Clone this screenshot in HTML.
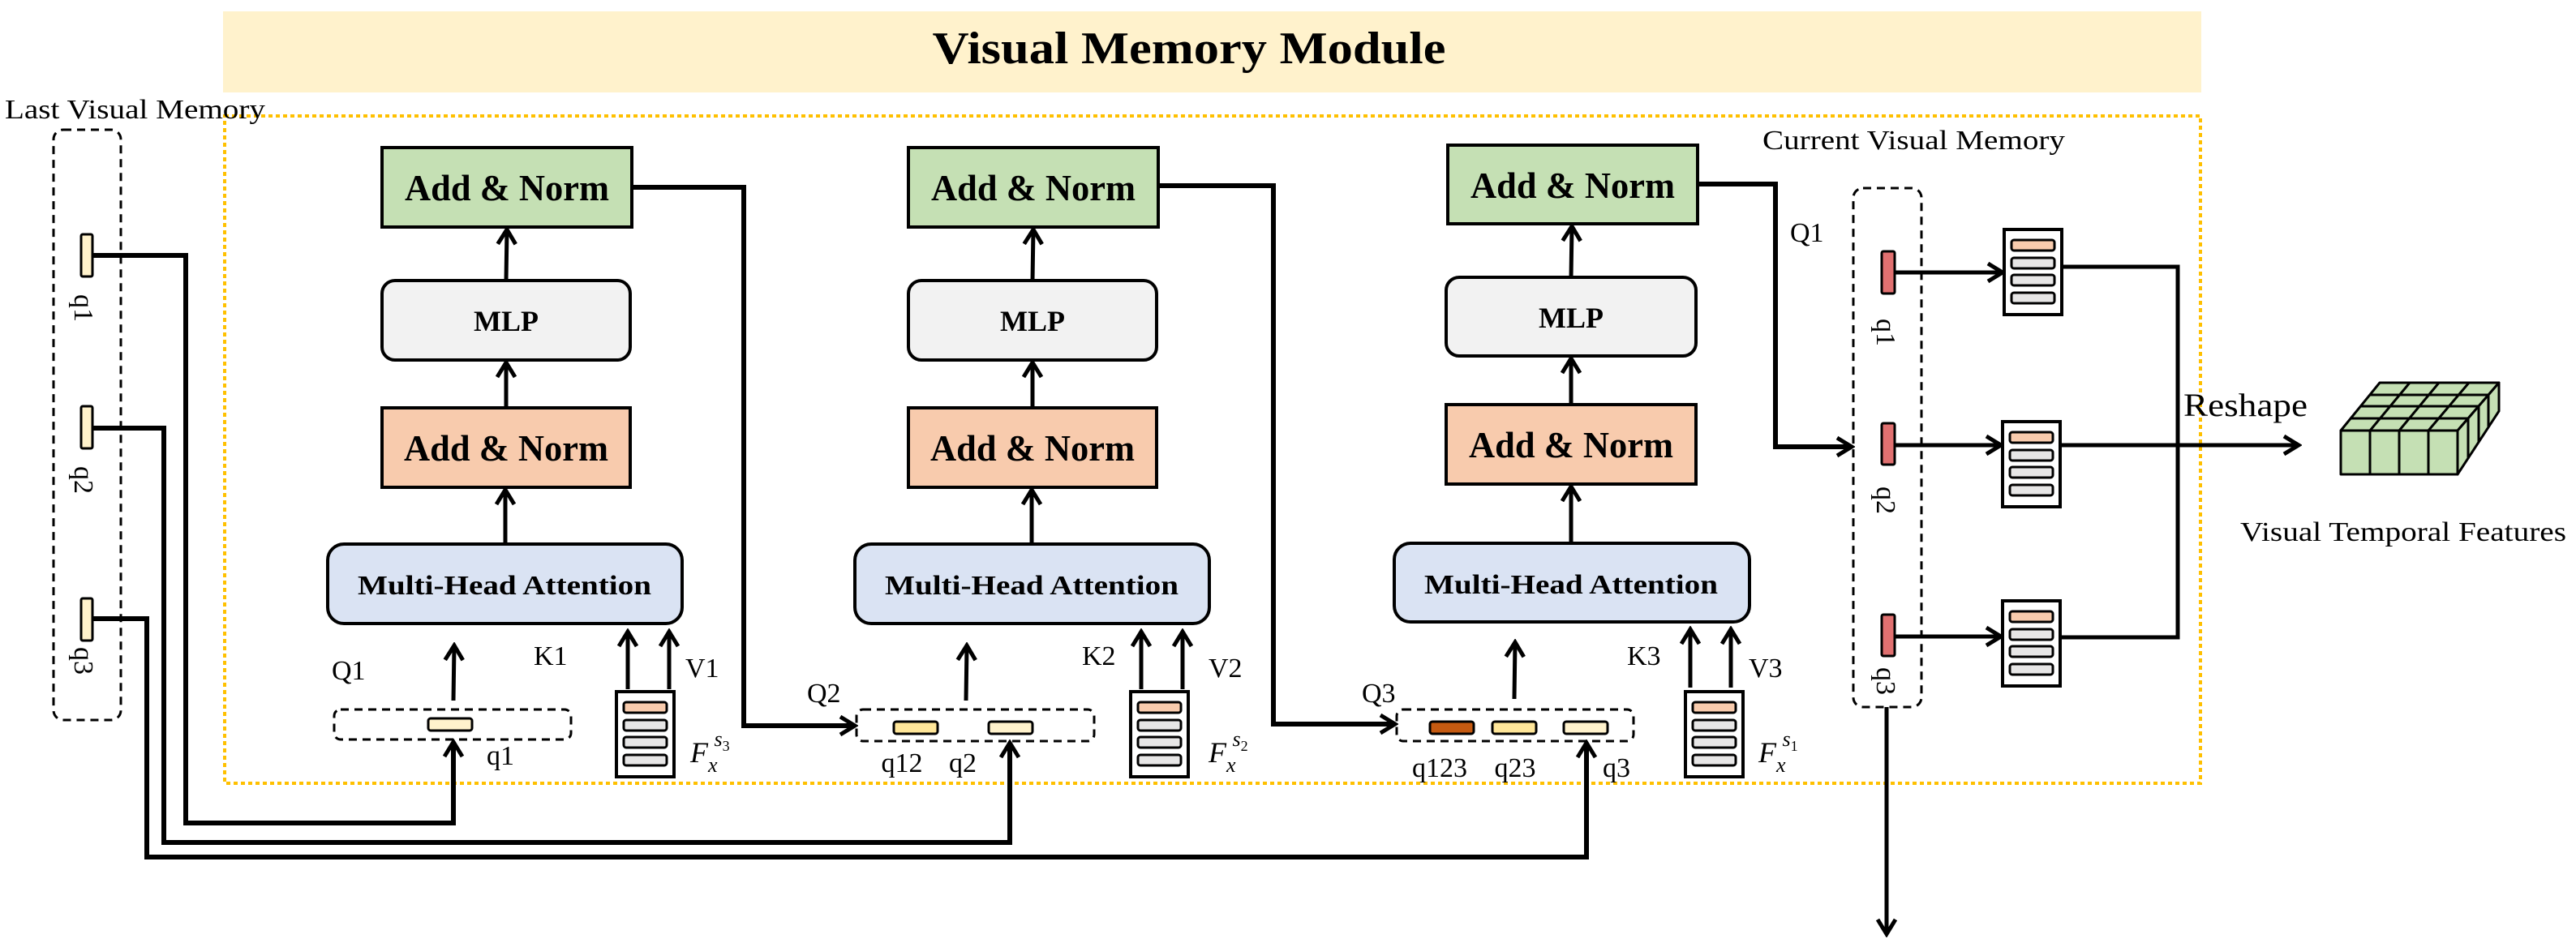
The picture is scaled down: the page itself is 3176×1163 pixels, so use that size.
<!DOCTYPE html>
<html><head><meta charset="utf-8"><style>
html,body{margin:0;padding:0;background:#fff;}
svg{display:block;}
text{font-family:"Liberation Serif",serif;}
</style></head><body>
<svg width="3176" height="1163" viewBox="0 0 3176 1163" xmlns="http://www.w3.org/2000/svg">
<defs>
<marker id="ah" markerUnits="userSpaceOnUse" markerWidth="30" markerHeight="30" viewBox="0 0 30 30" refX="26" refY="15" orient="auto">
<path d="M8,4 L26,15 L8,26" fill="none" stroke="#000" stroke-width="5" stroke-linejoin="miter"/>
</marker>
</defs>

<!-- title band -->
<rect x="275" y="14" width="2439" height="100" fill="#fff2cc"/>
<text x="1466" y="78" font-size="56" font-weight="bold" text-anchor="middle" textLength="633" lengthAdjust="spacingAndGlyphs">Visual Memory Module</text>

<!-- yellow dotted region -->
<rect x="277" y="143" width="2436" height="823" fill="none" stroke="#ffc000" stroke-width="4" stroke-dasharray="5,4"/>

<text x="6" y="146" font-size="34" textLength="321" lengthAdjust="spacingAndGlyphs">Last Visual Memory</text>
<text x="2173" y="184" font-size="34" textLength="373" lengthAdjust="spacingAndGlyphs">Current Visual Memory</text>

<!-- left memory box -->
<rect x="66" y="160" width="83" height="728" rx="12" fill="none" stroke="#000" stroke-width="3" stroke-dasharray="10,7"/>
<g fill="#fff2cc" stroke="#000" stroke-width="3">
<rect x="100" y="289" width="14" height="52" rx="2"/>
<rect x="100" y="501" width="14" height="52" rx="2"/>
<rect x="100" y="738" width="14" height="52" rx="2"/>
</g>
<g font-size="34">
<text transform="translate(92,380) rotate(90)" text-anchor="middle">q1</text>
<text transform="translate(92,592) rotate(90)" text-anchor="middle">q2</text>
<text transform="translate(92,815) rotate(90)" text-anchor="middle">q3</text>
</g>

<!-- lines from left memory -->
<g fill="none" stroke="#000" stroke-width="6">
<polyline points="114,315 229,315 229,1015 559,1015 559,915" marker-end="url(#ah)"/>
<polyline points="114,528 202,528 202,1039 1245,1039 1245,916" marker-end="url(#ah)"/>
<polyline points="114,763 181,763 181,1057 1956,1057 1956,916" marker-end="url(#ah)"/>
</g>

<!-- BLOCK 1 -->
<g stroke="#000" stroke-width="4">
<rect x="471" y="182" width="308" height="98" fill="#c5e0b4"/>
<rect x="471" y="346" width="306" height="98" rx="16" fill="#f2f2f2"/>
<rect x="471" y="503" width="306" height="98" fill="#f8cbad"/>
<rect x="404" y="671" width="437" height="98" rx="20" fill="#dae3f3"/>
</g>
<g font-weight="bold" text-anchor="middle">
<text x="625" y="247" font-size="46" textLength="252" lengthAdjust="spacingAndGlyphs">Add &amp; Norm</text>
<text x="624" y="408" font-size="36">MLP</text>
<text x="624" y="568" font-size="46" textLength="252" lengthAdjust="spacingAndGlyphs">Add &amp; Norm</text>
<text x="622" y="733" font-size="34" textLength="362" lengthAdjust="spacingAndGlyphs">Multi-Head Attention</text>
</g>
<g fill="none" stroke="#000" stroke-width="5">
<line x1="624" y1="346" x2="625" y2="283" marker-end="url(#ah)"/>
<line x1="624" y1="503" x2="624" y2="447" marker-end="url(#ah)"/>
<line x1="623" y1="671" x2="623" y2="604" marker-end="url(#ah)"/>
<line x1="559" y1="864" x2="560" y2="796" marker-end="url(#ah)"/>
<line x1="774" y1="850" x2="774" y2="779" marker-end="url(#ah)"/>
<line x1="825" y1="850" x2="825" y2="779" marker-end="url(#ah)"/>
</g>
<rect x="412" y="875" width="292" height="37" rx="8" fill="none" stroke="#000" stroke-width="3" stroke-dasharray="10,7"/>
<rect x="528" y="886" width="54" height="15" rx="3" fill="#fff2cc" stroke="#000" stroke-width="3"/>
<g font-size="34">
<text x="409" y="838">Q1</text>
<text x="658" y="820">K1</text>
<text x="845" y="835">V1</text>
<text x="600" y="943">q1</text>
</g>

<!-- BLOCK 2 -->
<g stroke="#000" stroke-width="4">
<rect x="1120" y="182" width="308" height="98" fill="#c5e0b4"/>
<rect x="1120" y="346" width="306" height="98" rx="16" fill="#f2f2f2"/>
<rect x="1120" y="503" width="306" height="98" fill="#f8cbad"/>
<rect x="1054" y="671" width="437" height="98" rx="20" fill="#dae3f3"/>
</g>
<g font-weight="bold" text-anchor="middle">
<text x="1274" y="247" font-size="46" textLength="252" lengthAdjust="spacingAndGlyphs">Add &amp; Norm</text>
<text x="1273" y="408" font-size="36">MLP</text>
<text x="1273" y="568" font-size="46" textLength="252" lengthAdjust="spacingAndGlyphs">Add &amp; Norm</text>
<text x="1272" y="733" font-size="34" textLength="362" lengthAdjust="spacingAndGlyphs">Multi-Head Attention</text>
</g>
<g fill="none" stroke="#000" stroke-width="5">
<line x1="1273" y1="346" x2="1274" y2="283" marker-end="url(#ah)"/>
<line x1="1273" y1="503" x2="1273" y2="447" marker-end="url(#ah)"/>
<line x1="1272" y1="671" x2="1272" y2="604" marker-end="url(#ah)"/>
<line x1="1191" y1="864" x2="1192" y2="796" marker-end="url(#ah)"/>
<line x1="1407" y1="850" x2="1407" y2="779" marker-end="url(#ah)"/>
<line x1="1458" y1="850" x2="1458" y2="779" marker-end="url(#ah)"/>
</g>
<rect x="1056" y="875" width="293" height="39" rx="8" fill="none" stroke="#000" stroke-width="3" stroke-dasharray="10,7"/>
<rect x="1102" y="890" width="54" height="15" rx="3" fill="#ffe699" stroke="#000" stroke-width="3"/>
<rect x="1219" y="890" width="54" height="15" rx="3" fill="#fff2cc" stroke="#000" stroke-width="3"/>
<g font-size="34">
<text x="995" y="866">Q2</text>
<text x="1334" y="820">K2</text>
<text x="1490" y="835">V2</text>
<text x="1112" y="952" text-anchor="middle">q12</text>
<text x="1187" y="952" text-anchor="middle">q2</text>
</g>

<!-- BLOCK 3 -->
<g stroke="#000" stroke-width="4">
<rect x="1785" y="179" width="308" height="97" fill="#c5e0b4"/>
<rect x="1783" y="342" width="308" height="97" rx="16" fill="#f2f2f2"/>
<rect x="1783" y="499" width="308" height="98" fill="#f8cbad"/>
<rect x="1719" y="670" width="438" height="97" rx="20" fill="#dae3f3"/>
</g>
<g font-weight="bold" text-anchor="middle">
<text x="1939" y="244" font-size="46" textLength="252" lengthAdjust="spacingAndGlyphs">Add &amp; Norm</text>
<text x="1937" y="404" font-size="36">MLP</text>
<text x="1937" y="564" font-size="46" textLength="252" lengthAdjust="spacingAndGlyphs">Add &amp; Norm</text>
<text x="1937" y="732" font-size="34" textLength="362" lengthAdjust="spacingAndGlyphs">Multi-Head Attention</text>
</g>
<g fill="none" stroke="#000" stroke-width="5">
<line x1="1937" y1="342" x2="1938" y2="279" marker-end="url(#ah)"/>
<line x1="1937" y1="499" x2="1937" y2="442" marker-end="url(#ah)"/>
<line x1="1937" y1="670" x2="1937" y2="600" marker-end="url(#ah)"/>
<line x1="1867" y1="862" x2="1868" y2="792" marker-end="url(#ah)"/>
<line x1="2084" y1="848" x2="2084" y2="776" marker-end="url(#ah)"/>
<line x1="2134" y1="848" x2="2134" y2="776" marker-end="url(#ah)"/>
</g>
<rect x="1722" y="875" width="292" height="39" rx="8" fill="none" stroke="#000" stroke-width="3" stroke-dasharray="10,7"/>
<rect x="1763" y="890" width="54" height="15" rx="3" fill="#c55a11" stroke="#000" stroke-width="3"/>
<rect x="1840" y="890" width="54" height="15" rx="3" fill="#ffe699" stroke="#000" stroke-width="3"/>
<rect x="1928" y="890" width="54" height="15" rx="3" fill="#fff2cc" stroke="#000" stroke-width="3"/>
<g font-size="34">
<text x="1679" y="866">Q3</text>
<text x="2006" y="820">K3</text>
<text x="2156" y="835">V3</text>
<text x="1775" y="958" text-anchor="middle">q123</text>
<text x="1868" y="958" text-anchor="middle">q23</text>
<text x="1993" y="958" text-anchor="middle">q3</text>
</g>

<!-- connectors between blocks -->
<g fill="none" stroke="#000" stroke-width="6">
<polyline points="779,231 917,231 917,895 1054,895" marker-end="url(#ah)"/>
<polyline points="1428,229 1570,229 1570,893 1720,893" marker-end="url(#ah)"/>
<polyline points="2093,227 2189,227 2189,551 2283,551" marker-end="url(#ah)"/>
</g>

<!-- feature boxes K/V -->
<g id="fb" stroke="#000">
<rect x="760" y="853" width="71" height="105" fill="#fff" stroke-width="4"/>
<rect x="769" y="866" width="53" height="13" rx="3" fill="#f8cbad" stroke-width="3"/>
<rect x="769" y="888" width="53" height="13" rx="3" fill="#e7e6e6" stroke-width="3"/>
<rect x="769" y="909" width="53" height="13" rx="3" fill="#e7e6e6" stroke-width="3"/>
<rect x="769" y="931" width="53" height="13" rx="3" fill="#e7e6e6" stroke-width="3"/>
</g>
<use href="#fb" x="634" y="0"/>
<use href="#fb" x="1318" y="0"/>
<use href="#fb" x="1711" y="-570"/>
<use href="#fb" x="1709" y="-333"/>
<use href="#fb" x="1709" y="-112"/>

<g font-size="36" font-style="italic">
<text x="851" y="940">F<tspan font-size="26" dy="12">x</tspan><tspan font-size="26" dx="-4" dy="-32">s</tspan><tspan font-size="18" font-style="normal" dy="6">3</tspan></text>
<text x="1490" y="940">F<tspan font-size="26" dy="12">x</tspan><tspan font-size="26" dx="-4" dy="-32">s</tspan><tspan font-size="18" font-style="normal" dy="6">2</tspan></text>
<text x="2168" y="940">F<tspan font-size="26" dy="12">x</tspan><tspan font-size="26" dx="-4" dy="-32">s</tspan><tspan font-size="18" font-style="normal" dy="6">1</tspan></text>
</g>

<!-- current memory box -->
<rect x="2285" y="232" width="84" height="640" rx="12" fill="none" stroke="#000" stroke-width="3" stroke-dasharray="10,7"/>
<g fill="#e07070" stroke="#000" stroke-width="3">
<rect x="2320" y="310" width="16" height="52" rx="2"/>
<rect x="2320" y="522" width="16" height="51" rx="2"/>
<rect x="2320" y="758" width="16" height="51" rx="2"/>
</g>
<g font-size="34">
<text transform="translate(2314,410) rotate(90)" text-anchor="middle">q1</text>
<text transform="translate(2314,617) rotate(90)" text-anchor="middle">q2</text>
<text transform="translate(2314,840) rotate(90)" text-anchor="middle">q3</text>
<text x="2207" y="298">Q1</text>
</g>
<g fill="none" stroke="#000" stroke-width="5">
<line x1="2336" y1="336" x2="2469" y2="336" marker-end="url(#ah)"/>
<line x1="2336" y1="549" x2="2467" y2="549" marker-end="url(#ah)"/>
<line x1="2336" y1="785" x2="2467" y2="785" marker-end="url(#ah)"/>
<polyline points="2543,329 2685,329 2685,786 2540,786"/>
<line x1="2540" y1="549" x2="2834" y2="549" marker-end="url(#ah)"/>
<line x1="2326" y1="872" x2="2326" y2="1152" marker-end="url(#ah)"/>
</g>
<text x="2692" y="513" font-size="40" textLength="153" lengthAdjust="spacingAndGlyphs">Reshape</text>
<text x="2762" y="667" font-size="34" textLength="402" lengthAdjust="spacingAndGlyphs">Visual Temporal Features</text>

<!-- cube -->
<g stroke="#000" stroke-width="3" fill="#c5e0b4" stroke-linejoin="round">
<polygon points="2886,531 2934,472 3081,472 3030,531"/>
<polygon points="3030,531 3081,472 3081,507 3030,585"/>
<rect x="2886" y="531" width="144" height="54"/>
<line x1="2922" y1="531" x2="2922" y2="585"/>
<line x1="2958" y1="531" x2="2958" y2="585"/>
<line x1="2994" y1="531" x2="2994" y2="585"/>
<line x1="2898" y1="516" x2="3043" y2="516"/>
<line x1="2910" y1="501" x2="3056" y2="501"/>
<line x1="2922" y1="487" x2="3068" y2="487"/>
<line x1="2922" y1="531" x2="2971" y2="472"/>
<line x1="2958" y1="531" x2="3007" y2="472"/>
<line x1="2994" y1="531" x2="3044" y2="472"/>
<line x1="3043" y1="516" x2="3043" y2="566"/>
<line x1="3056" y1="501" x2="3056" y2="546"/>
<line x1="3068" y1="487" x2="3068" y2="526"/>
</g>
</svg>
</body></html>
